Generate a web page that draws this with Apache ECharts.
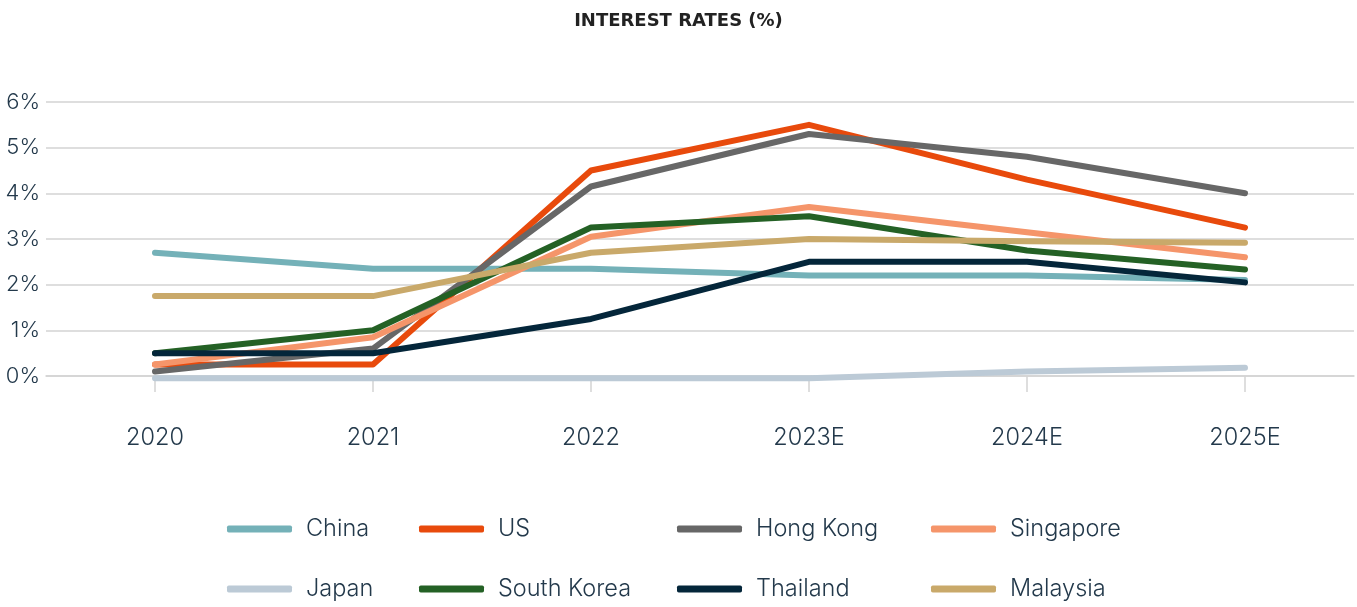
<!DOCTYPE html>
<html>
<head>
<meta charset="utf-8">
<script src="https://cdn.jsdelivr.net/npm/echarts@6/dist/echarts.min.js"></script>
<style>
html,body{margin:0;padding:0;background:#fff;}
#main{width:1357px;height:607px;}
</style>
</head>
<body>
<div id="main"></div>
<script>
var years = ['2020', '2021', '2022', '2023E', '2024E', '2025E'];

var china      = [2.7, 2.35, 2.35, 2.2, 2.2, 2.1];
var us         = [0.25, 0.25, 4.5, 5.5, 4.3, 3.25];
var hongKong   = [0.1, 0.6, 4.15, 5.3, 4.8, 4.0];
var singapore  = [0.25, 0.85, 3.05, 3.7, 3.15, 2.6];
var japan      = [-0.05, -0.05, -0.05, -0.05, 0.1, 0.18];
var southKorea = [0.5, 1.0, 3.25, 3.5, 2.75, 2.33];
var thailand   = [0.5, 0.5, 1.25, 2.5, 2.5, 2.05];
var malaysia   = [1.75, 1.75, 2.7, 3.0, 2.95, 2.92];

var names  = ['China', 'US', 'Hong Kong', 'Singapore', 'Japan', 'South Korea', 'Thailand', 'Malaysia'];
var values = [china, us, hongKong, singapore, japan, southKorea, thailand, malaysia];
var colors = ['#74b1b8', '#e84a0c', '#676767', '#f5956a', '#bccad6', '#246125', '#04263a', '#c9a96a'];

var textColor = '#23394b';
var font = 'Inter';

var myChart = echarts.init(document.getElementById('main'));

var series = [];
for (var i = 0; i < names.length; i++) {
  series.push({
    name: names[i],
    type: 'line',
    data: values[i],
    symbol: 'none',
    clip: false,
    z: names[i] == 'Japan' ? 1 : 2 + i,
    lineStyle: { width: 6, color: colors[i], cap: 'round', join: 'round' },
    itemStyle: { color: colors[i] }
  });
}

// one legend per column, so the columns line up like the original
function makeLegend(left, data) {
  return {
    orient: 'vertical',
    left: left,
    top: 512,
    icon: 'roundRect',
    itemWidth: 65,
    itemHeight: 7,
    itemGap: 36,
    data: data,
    textStyle: {
      color: textColor,
      fontFamily: font,
      fontSize: 23.5,
      fontWeight: 300,
      lineHeight: 24,
      padding: [0, 0, 0, 9]
    }
  };
}

var option = {
  backgroundColor: '#fff',
  animation: false,
  title: {
    text: 'INTEREST RATES (%)',
    left: 'center',
    top: 7,
    textStyle: { fontFamily: 'DejaVu Sans', fontSize: 18, fontWeight: 'bold', color: '#222' }
  },
  legend: [
    makeLegend(222, ['China', 'Japan']),
    makeLegend(414, ['US', 'South Korea']),
    makeLegend(672, ['Hong Kong', 'Thailand']),
    makeLegend(926, ['Singapore', 'Malaysia'])
  ],
  grid: { left: 46, right: 3, top: 102, bottom: 231, containLabel: false },
  xAxis: {
    type: 'category',
    data: years,
    boundaryGap: true,
    axisLine: { show: true, lineStyle: { color: '#d3d3d3', width: 1.5 } },
    axisTick: { show: true, alignWithLabel: true, length: 16, lineStyle: { color: '#d3d3d3', width: 1.5 } },
    axisLabel: { color: textColor, fontFamily: font, fontSize: 23.5, fontWeight: 300, margin: 50 }
  },
  yAxis: {
    type: 'value',
    min: 0,
    max: 6,
    interval: 1,
    axisLine: { show: false },
    axisTick: { show: false },
    splitLine: { lineStyle: { color: '#d3d3d3', width: 1.5 } },
    axisLabel: { formatter: '{value}%', color: textColor, fontFamily: font, fontSize: 22, fontWeight: 300, margin: 6 }
  },
  series: series
};

myChart.setOption(option);
</script>
</body>
</html>
